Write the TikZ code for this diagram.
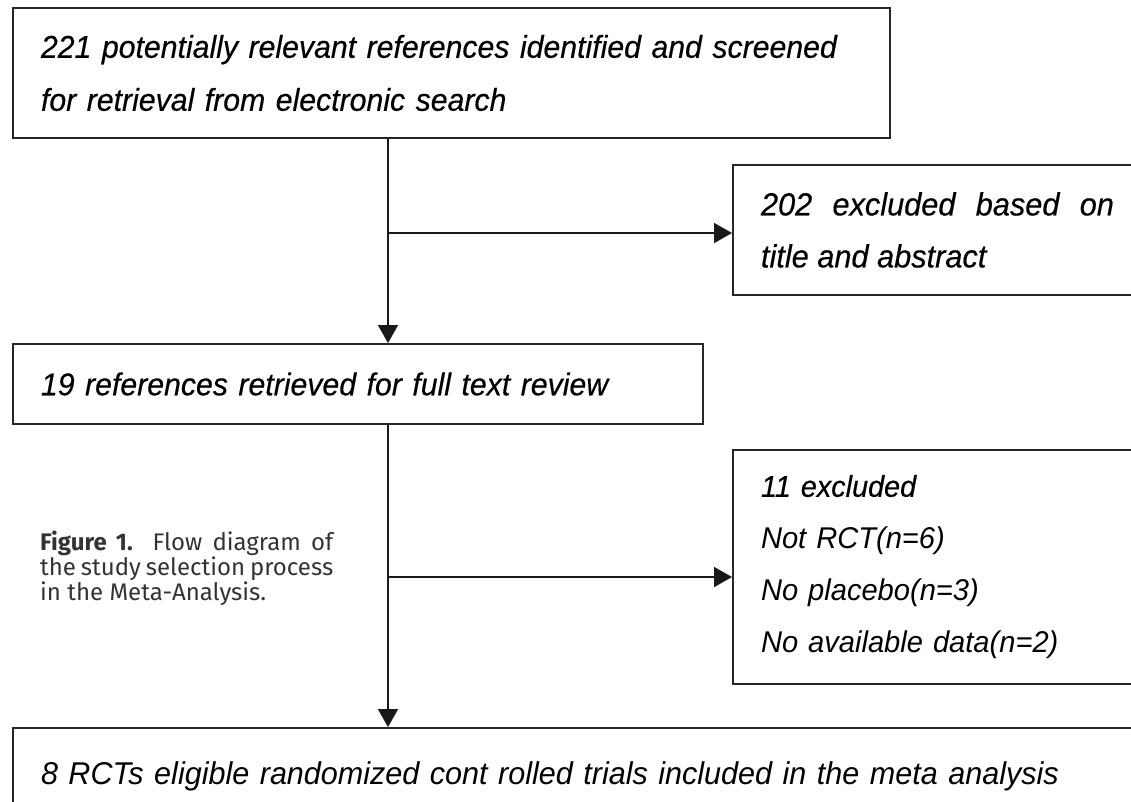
\documentclass[tikz,border=0pt]{standalone}
\usepackage{fontspec}
\setmainfont{Liberation Sans}[FakeStretch=0.97]
\newfontfamily\heavyfont{Liberation Sans}[FakeStretch=0.96, FakeBold=0.4]
\newfontfamily\capfont{Fira Sans}
\usepackage{tikz}
\usetikzlibrary{arrows.meta}

\begin{document}
\begin{tikzpicture}[x=1pt, y=-1pt,
  box/.style={draw=black!85, line width=2pt, anchor=north west, inner xsep=28pt, inner ysep=0pt,
    align=left, font=\heavyfont\itshape\fontsize{31.5}{53}\selectfont},
  arr/.style={draw=black!90, line width=1.8pt, -{Triangle[length=18pt,width=20pt]}}]
\useasboundingbox (0,0) rectangle (1131,801);
\clip (0,0) rectangle (1131,801); % right and bottom boxes run off the page
\node [box, text width=821pt, minimum height=130pt] (search) at (12,7)
  {\mbox{221 potentially relevant references identified and screened}\\\mbox{for retrieval from electronic search}};
\node [box, text width=353pt, minimum height=130pt, align=justify, font=\heavyfont\itshape\fontsize{32}{52}\selectfont] (title) at (732,164)
  {202 excluded based on\linebreak title and abstract};
\node [box, text width=634pt, minimum height=80pt] (full) at (12,343)
  {19 references retrieved for full text review};
\node [box, text width=360pt, minimum height=234pt, font=\itshape\fontsize{30}{52}\selectfont] (excl) at (732,449)
  {{\heavyfont 11 excluded}\\Not RCT(n=6)\\No placebo(n=3)\\No available data(n=2)};
\node [box, text width=1100pt, minimum height=96pt, font=\itshape\fontsize{31.5}{53}\selectfont] (incl) at (12,727)
  {8 RCTs eligible randomized cont rolled trials included in the meta analysis};
\node [anchor=north west, inner sep=0pt, text width=293pt, align=justify, text=black!80,
  font=\capfont\fontsize{24}{23.5}\selectfont] (cap) at (40,531)
  {\textbf{Figure 1.} Flow diagram of\linebreak the study selection process\linebreak in the Meta-Analysis.};
\coordinate (j1) at (388,233); % branch points
\coordinate (j2) at (388,577);
\draw [arr] (search.south -| j1) -- (full.north -| j1);
\draw [arr] (j1) -- (title.west |- j1);
\draw [arr] (full.south -| j1) -- (incl.north -| j1);
\draw [arr] (j2) -- (excl.west |- j2);
\end{tikzpicture}
\end{document}
